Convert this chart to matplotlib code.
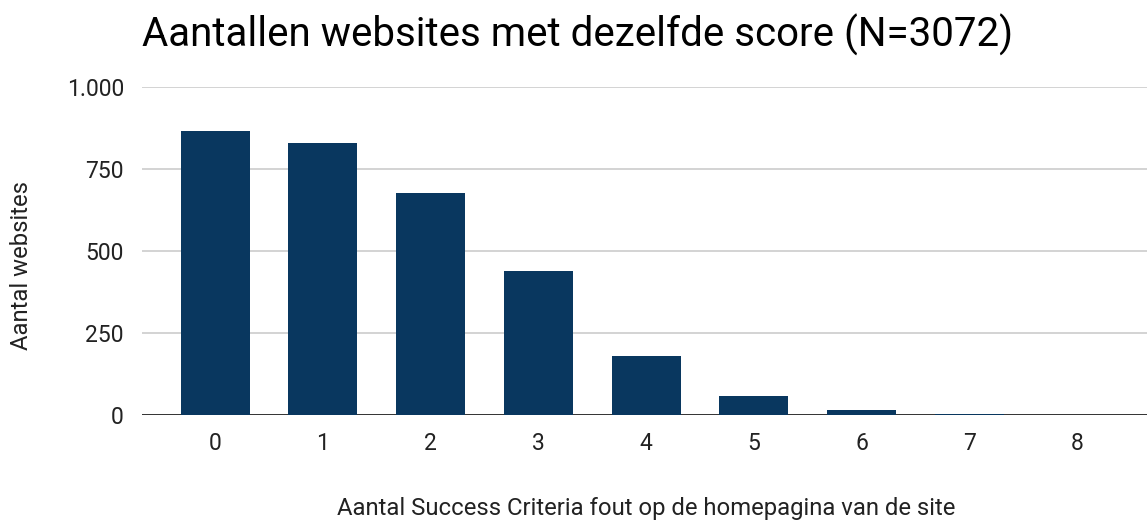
import matplotlib
matplotlib.use("Agg")
import matplotlib.pyplot as plt

plt.rcParams['font.family'] = ['Roboto', 'DejaVu Sans']

categories = ["0", "1", "2", "3", "4", "5", "6", "7", "8"]
counts = [868, 830, 678, 438, 181, 58, 15, 3, 1]
yticks = [0, 250, 500, 750, 1000]
ytick_labels = ["0", "250", "500", "750", "1.000"]

title = "Aantallen websites met dezelfde score (N=3072)"
xlabel = "Aantal Success Criteria fout op de homepagina van de site"
ylabel = "Aantal websites"

fig = plt.figure(figsize=(11.47, 5.22), dpi=100)
ax = fig.add_axes([142/1147, 1 - 415/522, 1 - 142/1147, (415 - 87.3)/522])

x = list(range(len(categories)))
ax.bar(x, counts, width=0.64, color="#09375f", zorder=3)

ax.set_xlim(-0.68, 8.65)
ax.set_ylim(0, 1000)
ax.set_yticks(yticks)
ax.set_yticklabels(ytick_labels)
ax.set_xticks(x)
ax.set_xticklabels(categories)

ax.grid(axis="y", color="#cccccc", linewidth=1.2, zorder=0)
ax.axhline(0, color="#333333", linewidth=1.4, zorder=2)
for s in ax.spines.values():
    s.set_visible(False)
ax.tick_params(axis="both", length=0, labelsize=16.5, colors="#222222")
ax.tick_params(axis="y", pad=13)
ax.tick_params(axis="x", pad=12)

fig.text(142/1147, 1 - 35/522, title, fontsize=29, ha="left", va="center", color="#000000")
fig.text(646/1147, 1 - 509/522, xlabel, fontsize=17.2, ha="center", va="center", color="#222222")
fig.text(22/1147, 1 - 265/522, ylabel, fontsize=17.2, ha="center", va="center", rotation=90, color="#222222")

fig.savefig("out.png", dpi=100)
